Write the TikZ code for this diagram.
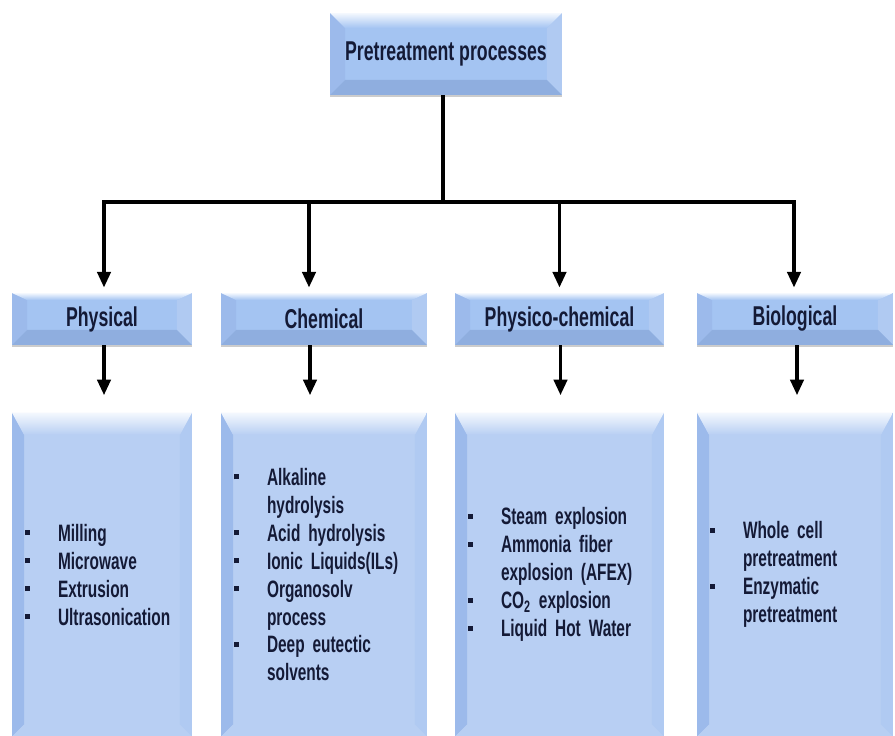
\documentclass[tikz,border=0pt]{standalone}
\usepackage{fontspec}
\setmainfont{Liberation Sans}[FakeStretch=0.65]
\usetikzlibrary{arrows.meta,positioning,shadows}

\definecolor{navy}{HTML}{141A36}
\definecolor{listblue}{HTML}{B8CFF3}
\definecolor{headblue}{HTML}{A4C4F2}
\definecolor{bevdark}{HTML}{9CBAEB}
\definecolor{bevright}{HTML}{B0CAF2}
\definecolor{bevlight}{HTML}{F4F8FE}
\definecolor{bevbottom}{HTML}{8FAEDF}

\newcommand{\bl}{\makebox[0.66cm][l]{\raisebox{0.12cm}{\rule{0.1cm}{0.1cm}}}}
\newcommand{\nb}{\hspace*{0.66cm}}

\tikzset{
  bevelbox/.style n args={4}{fill=#3, draw=none, inner sep=0pt,
    path picture={
      \fill[bevdark] (path picture bounding box.south west) -- (path picture bounding box.north west)
        -- ++(#1,-#2) -- ([shift={(#1,#1)}]path picture bounding box.south west) -- cycle;
      \fill[bevright] (path picture bounding box.south east) -- (path picture bounding box.north east)
        -- ++(-#1,-#2) -- ([shift={(-#1,#1)}]path picture bounding box.south east) -- cycle;
      \shade[top color=bevlight, bottom color=#3] (path picture bounding box.north west)
        -- (path picture bounding box.north east) -- ++(-#1,-#2)
        -- ([shift={(#1,-#2)}]path picture bounding box.north west) -- cycle;
      \fill[#4] (path picture bounding box.south west) -- (path picture bounding box.south east)
        -- ++(-#1,#1) -- ([shift={(#1,#1)}]path picture bounding box.south west) -- cycle;
    }},
  headbox/.style={bevelbox={0.3cm}{0.14cm}{headblue}{bevbottom}, minimum height=1.04cm, text=navy,
    font=\fontsize{15.5}{17}\selectfont\bfseries,
    drop shadow={shadow xshift=0pt, shadow yshift=-0.05cm, opacity=0.2, fill=black}},
  listbox/.style={bevelbox={0.24cm}{0.44cm}{listblue}{listblue}, minimum height=6.48cm, text=navy,
    text width=#1, align=left, inner xsep=0.26cm,
    font=\fontsize{13.5}{15.9}\selectfont\bfseries},
  conn/.style={line width=2.2pt, line join=miter, -{Triangle[width=7.5pt,length=9pt]}}
}

\begin{document}
\begin{tikzpicture}[x=0.02cm, y=-0.02cm]
\useasboundingbox (0,0) rectangle (895,736);
\fill[white] (0,0) rectangle (895,736);
% root
\node[headbox, bevelbox={0.3cm}{0.3cm}{headblue}{bevbottom}, minimum width=4.64cm, minimum height=1.64cm] (pre) at (446,54) {Pretreatment processes};
% categories
\node[headbox, minimum width=3.6cm] (phys) at (102,319) {Physical};
\node[headbox, minimum width=4.12cm] (chem) at (324,319) {Chemical};
\node[headbox, minimum width=4.18cm] (pchem) at (559.5,319) {Physico-chemical};
\node[headbox, minimum width=3.92cm] (bio) at (795,319) {Biological};
% methods
\node[listbox=3.08cm, below=1.34cm of phys] (lphys) {\bl Milling\\\bl Microwave\\\bl Extrusion\\\bl Ultrasonication};
\node[listbox=3.60cm, below=1.34cm of chem] (lchem) {\bl Alkaline\\\nb hydrolysis\\\bl Acid hydrolysis\\\bl Ionic Liquids(ILs)\\\bl Organosolv\\\nb process\\\bl Deep eutectic\\\nb solvents};
\node[listbox=3.66cm, below=1.34cm of pchem] (lpchem) {\bl Steam explosion\\\bl Ammonia fiber\\\nb explosion (AFEX)\\\bl CO\textsubscript{2} explosion\\\bl Liquid Hot Water};
\node[listbox=3.40cm, below=1.34cm of bio] (lbio) {\bl Whole cell\\\nb pretreatment\\\bl Enzymatic\\\nb pretreatment};
% connectors
\coordinate (bar) at (443,202);
\foreach \n/\dx in {phys/2,chem/-15,pchem/0,bio/-1}
  \draw[conn, shorten >=0.1cm] ([xshift=-0.06cm]pre.south) -- ([xshift=-0.06cm]pre.south |- bar) -| ([xshift=\dx*0.02cm]\n.north);
\foreach \n/\dx in {phys/2,chem/-14,pchem/1,bio/2}
  \draw[conn, shorten >=0.34cm] ([xshift=\dx*0.02cm]\n.south) -- ([xshift=\dx*0.02cm]l\n.north);
\end{tikzpicture}
\end{document}
